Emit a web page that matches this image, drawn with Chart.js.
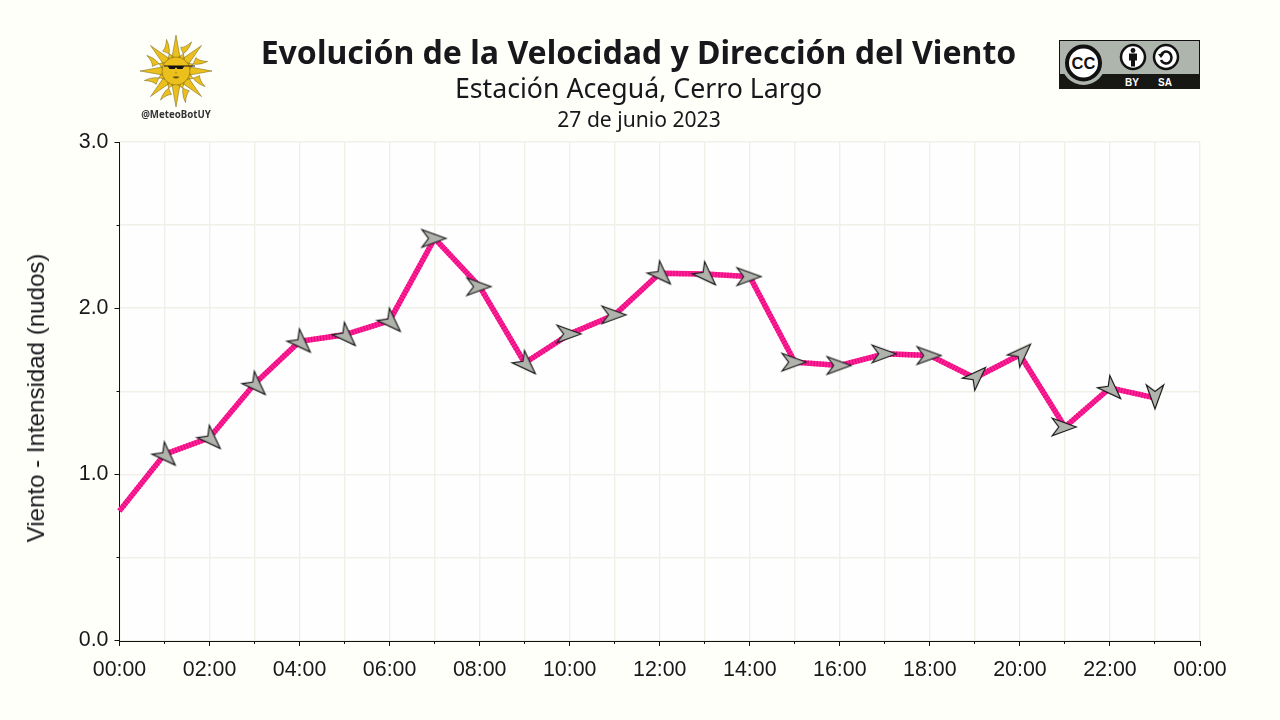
<!DOCTYPE html>
<html>
<head>
<meta charset="utf-8">
<title>Viento Aceguá</title>
<script src="https://cdn.jsdelivr.net/npm/chart.js@4"></script>
<style>
	html, body { margin: 0; padding: 0; background: #fffffa; }
	#wrap { position: relative; width: 1280px; height: 720px; overflow: hidden; }
	#wrap canvas { position: absolute; left: 0; top: 0; }
	.t { position: absolute; left: 0; width: 1277px; text-align: center; color: #17171c; font-family: "Noto Sans"; white-space: nowrap; }
	#t1 { top: 31px; font-size: 32.05px; font-weight: 700; line-height: 42px; }
	#t2 { top: 69px; font-size: 26.7px; line-height: 38px; }
	#t3 { top: 104px; left: 0.5px; font-size: 21.1px; line-height: 30px; }
	#ylab { position: absolute; left: 36px; top: 397.5px; transform: translate(-50%, -50%) rotate(-90deg); font: 24.1px "Liberation Sans"; color: #17171c; white-space: nowrap; }
	#bot { position: absolute; left: 116px; width: 120px; top: 108px; text-align: center; font: 700 9.7px "Noto Sans"; color: #333; }
	svg { position: absolute; }
</style>
</head>
<body>
<div id="wrap">
	<canvas id="chart" width="1280" height="720"></canvas>
	<div class="t" id="t1">Evolución de la Velocidad y Dirección del Viento</div>
	<div class="t" id="t2">Estación Aceguá, Cerro Largo</div>
	<div class="t" id="t3">27 de junio 2023</div>
	<div id="ylab">Viento - Intensidad (nudos)</div>
	<svg id="sun" style="left:136px;top:31px" width="80" height="80" viewBox="-40 -40 80 80"></svg>
	<div id="bot">@MeteoBotUY</div>
	<svg style="left:1059px;top:40px" width="141" height="49" viewBox="0 0 141 49">
		<rect x="0.5" y="0.5" width="140" height="48" fill="#aeb5ac" stroke="#111"/>
		<rect x="0" y="34" width="141" height="15" fill="#171814"/>
		<circle cx="24.5" cy="23" r="22" fill="#aeb5ac"/>
		<circle cx="24.5" cy="23" r="16.5" fill="#fff" stroke="#111" stroke-width="4"/>
		<text x="24.5" y="29" text-anchor="middle" font-family="Liberation Sans" font-weight="700" font-size="16.5" fill="#111">CC</text>
		<circle cx="74" cy="17" r="12" fill="#fff" stroke="#111" stroke-width="2.5"/>
		<circle cx="74" cy="10.5" r="2.4" fill="#111"/>
		<path d="M70 13.5h8v7h-2v6h-4v-6h-2z" fill="#111"/>
		<circle cx="107" cy="17" r="12" fill="#fff" stroke="#111" stroke-width="2.5"/>
		<path d="M102 15a5.5 6 0 1 1 0 5" fill="none" stroke="#111" stroke-width="2.6"/>
		<path d="M99 14h6l-3 4z" fill="#111"/>
		<text x="73" y="46" text-anchor="middle" font-family="Liberation Sans" font-weight="700" font-size="10" fill="#fff">BY</text>
		<text x="106" y="46" text-anchor="middle" font-family="Liberation Sans" font-weight="700" font-size="10" fill="#fff">SA</text>
	</svg>
</div>
<script>
const hours = [0, 1, 2, 3, 4, 5, 6, 7, 8, 9, 10, 11, 12, 13, 14, 15, 16, 17, 18, 19, 20, 21, 22, 23];
const windSpeed = [0.78, 1.12, 1.22, 1.545, 1.80, 1.84, 1.925, 2.42, 2.13, 1.67, 1.845, 1.96, 2.21, 2.205, 2.19, 1.675, 1.655, 1.725, 1.715, 1.58, 1.72, 1.285, 1.52, 1.46];
// rumbo de la flecha en grados, horario desde el este
const windDir = [null, 45, 45, 45, 45, 45, 45, 0, 0, 45, 0, 0, 45, 45, 0, 0, 0, 0, 0, -45, -45, 0, 45, 90];
const xTicks = [0, 1, 2, 3, 4, 5, 6, 7, 8, 9, 10, 11, 12, 13, 14, 15, 16, 17, 18, 19, 20, 21, 22, 23, 24];
const xLabels = ['00:00', '02:00', '04:00', '06:00', '08:00', '10:00', '12:00', '14:00', '16:00', '18:00', '20:00', '22:00', '00:00'];
const yTicks = [0, 0.5, 1, 1.5, 2, 2.5, 3];
const yLabels = ['0.0', '1.0', '2.0', '3.0'];

const ink = '#17171c';
const gridColor = '#f0efe8';

// flecha gris ya girada; las diagonales del original van corridas hacia la punta
const arrows = {};
function arrowFor(dir) {
	if (arrows[dir]) return arrows[dir];
	const cv = document.createElement('canvas');
	cv.width = 48;
	cv.height = 48;
	const c = cv.getContext('2d');
	const diag = Math.abs(dir) == 45;
	const tip = diag ? 15 : (dir == 90 ? 11 : 11.3);
	const len = 24;
	c.translate(24, 24);
	c.rotate(dir * Math.PI / 180);
	c.beginPath();
	c.moveTo(tip, 0);
	c.lineTo(tip - len, 8.7);
	c.lineTo(tip - len + 6.5, 0);
	c.lineTo(tip - len, -8.7);
	c.closePath();
	c.fillStyle = '#b0b2ac';
	c.strokeStyle = '#1c1c1c';
	c.lineWidth = 1.2;
	c.fill();
	c.stroke();
	arrows[dir] = cv;
	return cv;
}

// sol de la bandera
var sunPath = '';
var sunSvg = '';
for (var i = 0; i < 16; i++) {
	var a = i * Math.PI / 8;
	var pt = function(r, da) {
		return (r * Math.cos(a + da)).toFixed(1) + ' ' + (r * Math.sin(a + da)).toFixed(1);
	};
	if (i % 2 == 0) {
		sunPath += 'M' + pt(13, -0.34) + 'L' + pt(36, 0) + 'L' + pt(13, 0.34) + 'Z';
	} else {
		sunPath += 'M' + pt(13, -0.34) + 'Q' + pt(22, 0.2) + ' ' + pt(33, 0.1) + 'Q' + pt(25, -0.02) + ' ' + pt(24, -0.2) + 'Q' + pt(18, 0.1) + ' ' + pt(13, 0.34) + 'Z';
	}
}
sunSvg += '<path d="' + sunPath + '" fill="#ecc01c" stroke="#5e5012" stroke-width="0.45"/>';
sunSvg += '<circle r="14" fill="#ecc01c" stroke="#5e5012" stroke-width="0.45"/>';
sunSvg += '<path d="M-12 -5.5H19V-4.5H8L6.5 -2H1.5L0 -3.8L-1.5 -2H-6.5L-8 -4.5H-12Z" fill="#111"/>';
sunSvg += '<path d="M-3.5 6Q0 4.5 3.5 6Q0 9 -3.5 6Z" fill="#6e5410"/>';
sunSvg += '<path d="M-1 1.5Q0 3 1 1.5" fill="none" stroke="#6e5410" stroke-width="0.5"/>';
document.getElementById('sun').innerHTML = sunSvg;

const plotBackground = {
	id: 'plotBackground',
	beforeDraw(chart) {
		const a = chart.chartArea;
		chart.ctx.fillStyle = '#fffefe';
		chart.ctx.fillRect(a.left, a.top, a.width, a.height);
	}
};

// marcas cortas fuera de los ejes: largas en las etiquetadas, cortas el resto
const axisTicks = {
	id: 'axisTicks',
	afterDraw(chart) {
		const c = chart.ctx;
		const a = chart.chartArea;
		c.save();
		c.strokeStyle = '#111';
		c.lineWidth = 1;
		c.beginPath();
		xTicks.forEach(v => {
			const x = Math.floor(chart.scales.x.getPixelForValue(v)) + 0.5;
			c.moveTo(x, a.bottom);
			c.lineTo(x, a.bottom + (v % 2 == 0 ? 5 : 3));
		});
		yTicks.forEach(v => {
			const y = Math.floor(chart.scales.y.getPixelForValue(v)) + 0.5;
			c.moveTo(a.left, y);
			c.lineTo(a.left - (v % 1 == 0 ? 5 : 3), y);
		});
		c.stroke();
		c.restore();
	}
};

const points = hours.map((h, i) => ({ x: h, y: windSpeed[i] }));

new Chart(document.getElementById('chart'), {
	type: 'line',
	data: {
		datasets: [{
			label: 'franjas',
			data: points,
			order: 1,
			clip: false,
			borderColor: '#e8047f',
			borderWidth: 5.5,
			borderDash: [1, 2],
			tension: 0,
			pointStyle: ctx => windDir[ctx.dataIndex] === null ? false : arrowFor(windDir[ctx.dataIndex]),
			pointRadius: ctx => windDir[ctx.dataIndex] === null ? 0 : 12
		}, {
			label: 'Viento',
			data: points,
			order: 2,
			clip: false,
			borderColor: '#fb2395',
			borderWidth: 5.5,
			tension: 0,
			pointRadius: 0
		}]
	},
	options: {
		responsive: false,
		animation: false,
		layout: { padding: { top: 142, right: 80, left: 0, bottom: 0 } },
		plugins: { legend: { display: false }, tooltip: { enabled: false } },
		scales: {
			x: {
				type: 'linear',
				min: 0,
				max: 24,
				afterBuildTicks: s => { s.ticks = xTicks.map(v => ({ value: v })); },
				afterFit: s => { s.height = 79; },
				grid: { color: gridColor, lineWidth: 1.4, drawTicks: false },
				border: { color: '#111', width: 1 },
				ticks: {
					autoSkip: false,
					maxRotation: 0,
					padding: 16,
					color: ink,
					font: { family: 'Liberation Sans', size: 21.4 },
					callback: v => v % 2 == 0 ? xLabels[v / 2] : ''
				}
			},
			y: {
				min: -0.003,
				max: 3,
				afterBuildTicks: s => { s.ticks = yTicks.map(v => ({ value: v })); },
				afterFit: s => { s.width = 119.5; },
				grid: { color: gridColor, lineWidth: 1.4, drawTicks: false },
				border: { color: '#111', width: 1 },
				ticks: {
					autoSkip: false,
					padding: 11,
					color: ink,
					font: { family: 'Liberation Sans', size: 21.4 },
					callback: v => v % 1 == 0 ? yLabels[v] : ''
				}
			}
		}
	},
	plugins: [plotBackground, axisTicks]
});
</script>
</body>
</html>
